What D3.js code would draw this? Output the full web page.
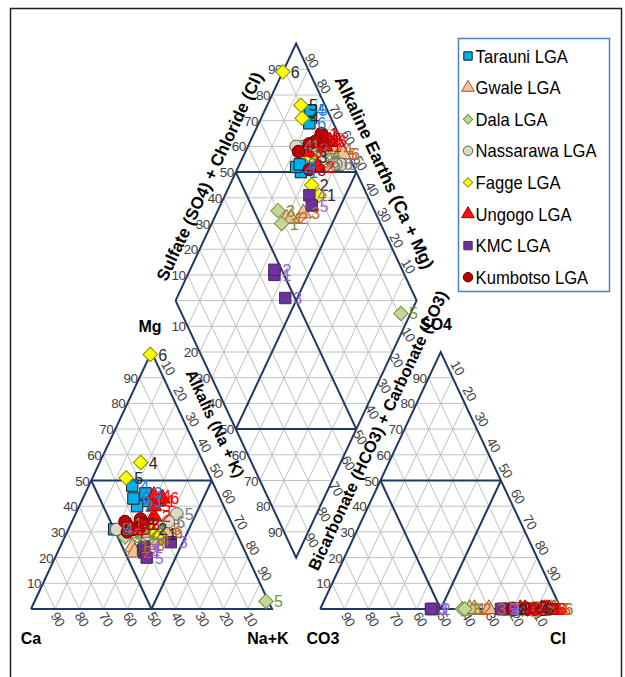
<!DOCTYPE html>
<html>
<head>
<meta charset="utf-8">
<script src="https://cdn.jsdelivr.net/npm/d3@7"></script>
<style>
body { margin: 0; background: #fff; }
text { font-family: "Liberation Sans Narrow", "Arial Narrow", Arial, sans-serif; }
.ttl { font-family: "Liberation Sans", Arial, sans-serif; font-weight: bold; fill: #000; }
.tick { font-size: 13.5px; fill: #404040; letter-spacing: -0.5px; }
</style>
</head>
<body>
<script>
// LGA series
var lgaNames = ["Tarauni LGA", "Gwale LGA", "Dala LGA", "Nassarawa LGA", "Fagge LGA", "Ungogo LGA", "KMC LGA", "Kumbotso LGA"];
var shapes = ["square", "triangle", "diamond", "circle", "diamond", "triangle", "square", "circle"];
var fills = ["#00B0F0", "#FAC090", "#C3D69B", "#DDD9C3", "#FFFF00", "#FF1010", "#7030A0", "#C00000"];
var strokes = ["#1a1a1a", "#7f6040", "#76923C", "#595959", "#8a8a00", "#a00000", "#3F3151", "#5a0000"];
var labelColors = ["#1F7FD0", "#C0651A", "#76923C", "#7F7F7F", "#262626", "#FF0000", "#9966CC", "#C00000"];

// percent values per sample (sample number = index + 1)
var mgPct = [
  [42, 40, 45, 48, 31, 43],
  [24, 22, 25, 27, 31, 30],
  [30, 29, 28, 31, 3, 27],
  [33, 30, 29, 31, 37, 34],
  [29, 31, 33, 57, 51, 99],
  [42, 36, 32, 44, 40, 43],
  [22, 23, 26, 24, 20],
  [35, 33, 33, 30, 34, 31]
];
var naPct = [
  [27, 24, 25, 18, 19, 21],
  [30, 32, 36, 37, 40, 41],
  [29, 31, 25, 33, 96, 35],
  [23, 27, 34, 20, 42, 40],
  [39, 34, 28, 17, 14, 0],
  [32, 33, 25, 29, 31, 33],
  [36, 35, 45, 35, 38],
  [28, 30, 30, 25, 22, 27]
];
// SO4 + Cl (SO4 reads as zero in the anion triangle)
var clPct = [
  [77, 76, 78, 92, 93, 90],
  [62, 64, 70, 96, 97, 98],
  [59, 86, 60, 90, 91, 88],
  [83, 86, 88, 80, 95, 93],
  [80, 79, 84, 88, 90, 89],
  [92, 85, 83, 93, 94, 95],
  [46, 47, 46, 76, 75],
  [93, 92, 81, 86, 80, 89]
];
var tickValues = [10, 20, 30, 40, 50, 60, 70, 80, 90];

var W = 625, Hpx = 677;
var H = Math.sqrt(3) / 2, G = 0.2;

var svg = d3.select("body").append("svg").attr("width", W).attr("height", Hpx);

var x = d3.scaleLinear().domain([0, 1]).range([31, 272]);
var y = d3.scaleLinear().domain([0, H]).range([609, 352]);

function cat(mg, na) { return [na + mg / 2, mg * H]; }
function an(so4, cl) { return [1 + G + cl + so4 / 2, so4 * H]; }
function dia(n, c) { return [0.5 + G / 2 + (n + c) / 2, (1 + G - n + c) * H]; }

var line = d3.line().x(function(d) { return x(d[0]); }).y(function(d) { return y(d[1]); });

// frame
svg.append("rect").attr("x", 10.5).attr("y", 8.5).attr("width", 611).attr("height", 700)
  .attr("fill", "none").attr("stroke", "#222").attr("stroke-width", 1.5);

// light grid
var grid = [];
tickValues.forEach(function(v) {
  var t = v / 100;
  grid.push([cat(t, 0), cat(t, 1 - t)], [cat(0, t), cat(1 - t, t)], [cat(0, 1 - t), cat(1 - t, 0)]);
  grid.push([an(t, 0), an(t, 1 - t)], [an(0, t), an(1 - t, t)], [an(0, 1 - t), an(1 - t, 0)]);
  grid.push([dia(t, 0), dia(t, 1)], [dia(0, t), dia(1, t)]);
  grid.push([dia(0, t), dia(1 - t, 1)], [dia(t, 0), dia(1, 1 - t)]);
});
grid.push([dia(0, 0), dia(1, 1)]);
svg.append("g").selectAll("path").data(grid).enter().append("path")
  .attr("d", line).attr("fill", "none").attr("stroke", "#C0C0C0").attr("stroke-width", 1);

// dark outlines
var navy = [
  [cat(0, 0), cat(0, 1), cat(1, 0), cat(0, 0)],
  [cat(0.5, 0), cat(0.5, 0.5)], [cat(0, 0.5), cat(0.5, 0.5)], [cat(0, 0.5), cat(0.5, 0)],
  [an(0, 0), an(0, 1), an(1, 0), an(0, 0)],
  [an(0.5, 0), an(0.5, 0.5)], [an(0, 0.5), an(0.5, 0.5)], [an(0, 0.5), an(0.5, 0)],
  [dia(0, 0), dia(1, 0), dia(1, 1), dia(0, 1), dia(0, 0)],
  [dia(0.5, 0), dia(0.5, 1)], [dia(0, 0.5), dia(1, 0.5)],
  [dia(0, 0.5), dia(0.5, 1)], [dia(0.5, 0), dia(1, 0.5)]
];
svg.append("g").selectAll("path").data(navy).enter().append("path")
  .attr("d", line).attr("fill", "none").attr("stroke", "#1F3864").attr("stroke-width", 2)
  .attr("stroke-linejoin", "miter");

// tick labels
var ticks = svg.append("g").attr("class", "tick");
function flat(p, v) {
  ticks.append("text").attr("x", x(p[0]) - 2).attr("y", y(p[1]) + 5)
    .attr("text-anchor", "end").text(v);
}
function slant(p, v, dx, dy) {
  var cx = x(p[0]) + dx, cy = y(p[1]) + dy;
  ticks.append("text").attr("x", cx).attr("y", cy + 5).attr("text-anchor", "middle")
    .attr("transform", "rotate(60," + cx + "," + cy + ")").text(v);
}
tickValues.forEach(function(v) {
  var t = v / 100;
  flat(cat(t, 0), v);                 // Mg
  slant(cat(0, 1 - t), v, 3, 10);     // Ca
  slant(cat(1 - t, t), v, 5, -10);    // Na+K
  flat(an(t, 0), v);                  // SO4
  slant(an(0, 1 - t), v, 4, 10);      // CO3
  slant(an(1 - t, t), v, 5, -10);     // Cl
  flat(dia(0, t), v);                 // SO4 + Cl
  flat(dia(t, 0), v);                 // Na + K
  slant(dia(1 - t, 1), v, 4, -9);     // Ca + Mg
  slant(dia(1, 1 - t), v, 4, 8);      // HCO3 + CO3
});

// axis titles
var ttl = svg.append("g");
function title(str, cx, cy, ang, size) {
  ttl.append("text").attr("class", "ttl").attr("x", cx).attr("y", cy)
    .attr("text-anchor", "middle").attr("font-size", size)
    .attr("transform", ang ? "rotate(" + ang + "," + cx + "," + cy + ")" : null).text(str);
}
title("Sulfate (SO4) + Chloride (Cl)", 215, 179, -64.9, 17);
title("Alkaline Earths (Ca + Mg)", 379, 175, 64.9, 17.5);
title("Alkalis (Na + K)", 210, 426, 64.9, 16);
title("Bicarbonate (HCO3) + Carbonate (CO3)", 383, 433, -64.9, 16.5);
title("Mg", 150, 332, 0, 16);
title("Ca", 31, 644, 0, 16);
title("Na+K", 268, 644, 0, 16);
title("CO3", 323, 644, 0, 16);
title("Cl", 558, 644, 0, 16);
title("SO4", 436, 330, 0, 16);

// points
var symSize = { square: 130, triangle: 110, diamond: 105, circle: 125 };
function symPath(s, size) {
  var type = s === "triangle" ? d3.symbolTriangle : s === "circle" ? d3.symbolCircle : d3.symbolSquare;
  return d3.symbol().type(type).size(size)();
}

var pts = [];
lgaNames.forEach(function(name, i) {
  mgPct[i].forEach(function(mg, j) {
    var m = mg / 100, n = naPct[i][j] / 100, c = clPct[i][j] / 100;
    [cat(m, n), an(0, c), dia(n, c)].forEach(function(p) {
      pts.push({ s: i, id: j + 1, px: x(p[0]), py: y(p[1]) });
    });
  });
});

svg.append("g").selectAll("path").data(pts).enter().append("path")
  .attr("d", function(d) { return symPath(shapes[d.s], symSize[shapes[d.s]]); })
  .attr("transform", function(d) {
    return "translate(" + d.px + "," + d.py + ")" + (shapes[d.s] === "diamond" ? " rotate(45)" : "");
  })
  .attr("fill", function(d) { return fills[d.s]; })
  .attr("stroke", function(d) { return strokes[d.s]; })
  .attr("stroke-width", 1);

svg.append("g").selectAll("text").data(pts).enter().append("text")
  .attr("x", function(d) { return d.px + 8; })
  .attr("y", function(d) { return d.py + 6; })
  .attr("font-size", 16)
  .attr("fill", function(d) { return labelColors[d.s]; })
  .text(function(d) { return d.id; });

// legend
var leg = svg.append("g");
leg.append("rect").attr("x", 458.5).attr("y", 38.5).attr("width", 151).attr("height", 253)
  .attr("fill", "#fff").attr("stroke", "#4F81BD").attr("stroke-width", 1.5);
var rows = leg.selectAll("g.row").data(lgaNames).enter().append("g")
  .attr("transform", function(d, i) { return "translate(468," + (56 + i * 31.6) + ")"; });
rows.append("path")
  .attr("d", function(d, i) { return symPath(shapes[i], shapes[i] === "diamond" ? 45 : 70); })
  .attr("transform", function(d, i) { return shapes[i] === "diamond" ? "rotate(45)" : null; })
  .attr("fill", function(d, i) { return fills[i]; })
  .attr("stroke", function(d, i) { return strokes[i]; });
rows.append("text").attr("x", 8).attr("y", 6.5).attr("font-size", 17.5).attr("fill", "#000")
  .attr("transform", "scale(0.95,1)")
  .text(function(d) { return d; });
</script>
</body>
</html>
